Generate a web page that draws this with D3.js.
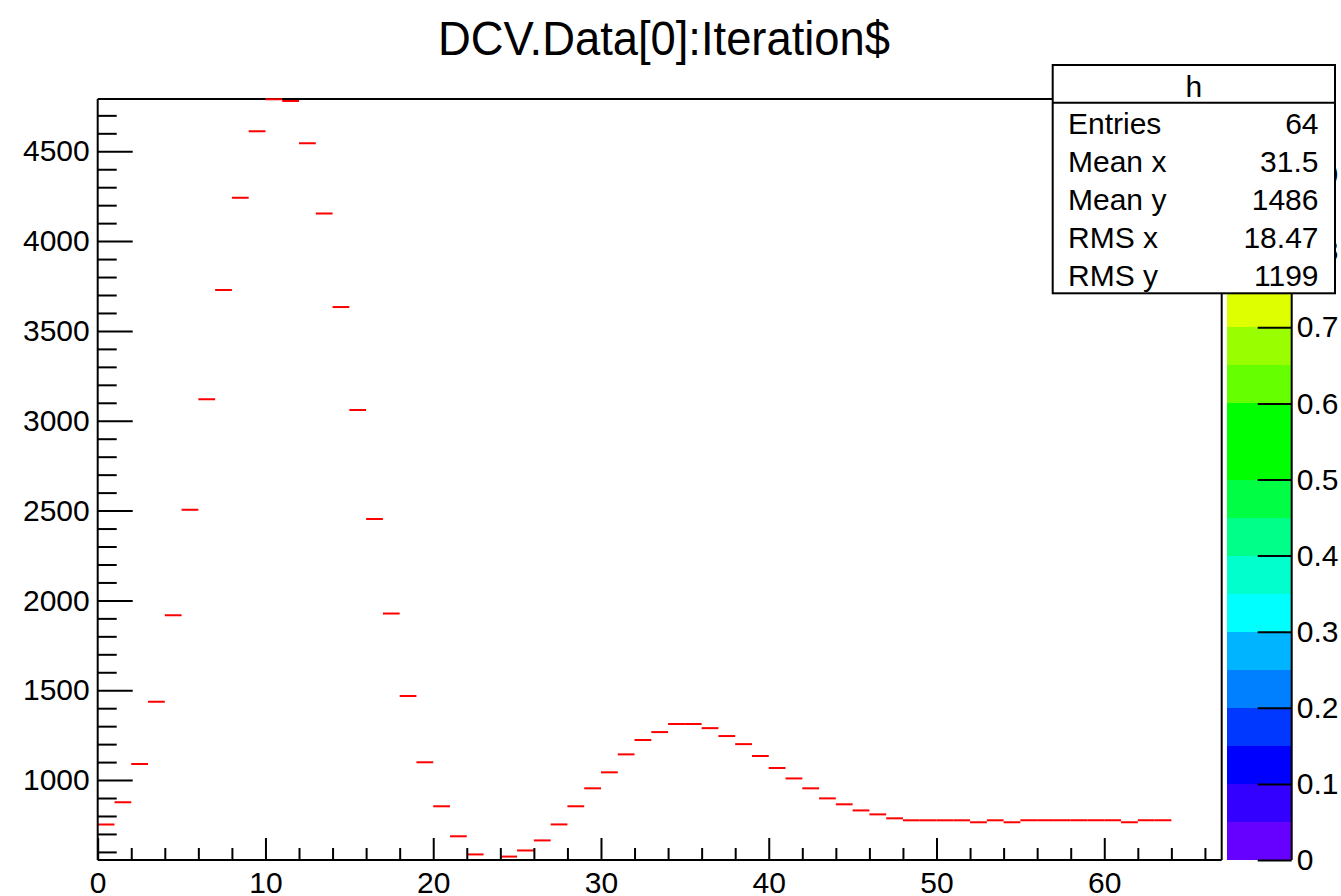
<!DOCTYPE html>
<html>
<head>
<meta charset="utf-8">
<script src="https://cdn.jsdelivr.net/npm/d3@7"></script>
<style>
  html, body { margin: 0; padding: 0; background: #fff; }
  svg { display: block; font-family: "Liberation Sans", Arial, Helvetica, sans-serif; }
</style>
</head>
<body>
<svg id="chart" width="1341" height="896"></svg>
<script>
// ---------------- data ----------------
const chartTitle = "DCV.Data[0]:Iteration$";
// one value per Iteration$ bin (0..63)
const binValues = [
  753, 876, 1089, 1436, 1917, 2505, 3120, 3728, 4242, 4611,
  4790, 4780, 4544, 4153, 3633, 3060, 2453, 1927, 1468, 1099,
  854, 687, 586, 550, 574, 608, 664, 753, 854, 954,
  1043, 1143, 1223, 1267, 1312, 1312, 1289, 1245, 1200, 1134,
  1067, 1009, 954, 898, 865, 831, 809, 787, 776, 776,
  776, 776, 765, 776, 765, 776, 776, 776, 776, 776,
  776, 765, 776, 776
];
const xDomain = [0, 67];
const yDomain = [555, 4791];
const xMajorTicks = [0, 10, 20, 30, 40, 50, 60];
const xMinorTicks = [2, 4, 6, 8, 12, 14, 16, 18, 22, 24, 26, 28, 32, 34, 36, 38, 42, 44, 46, 48, 52, 54, 56, 58, 62, 64, 66];
const yMajorTicks = [1000, 1500, 2000, 2500, 3000, 3500, 4000, 4500];
const yMinorTicks = [600, 700, 800, 900, 1100, 1200, 1300, 1400, 1600, 1700, 1800, 1900, 2100, 2200, 2300, 2400,
  2600, 2700, 2800, 2900, 3100, 3200, 3300, 3400, 3600, 3700, 3800, 3900, 4100, 4200, 4300, 4400, 4600, 4700];
// palette (z axis)
const zDomain = [0, 1];
const zTicks = [0, 0.1, 0.2, 0.3, 0.4, 0.5, 0.6, 0.7, 0.8, 0.9, 1];
const zBandEdges = [0, 0.05, 0.1, 0.15, 0.2, 0.25, 0.3, 0.35, 0.4, 0.45, 0.5, 0.55, 0.6, 0.65, 0.7, 0.75, 0.8, 0.85, 0.9, 0.95, 1];
const zBandColors = ["#6600ff", "#3300ff", "#0000ff", "#0038ff", "#0080ff", "#00b4ff", "#00ffff", "#00ffcc",
  "#00ff88", "#00ff44", "#00ff00", "#00ff00", "#66ff00", "#99ff00", "#ddff00", "#ffff00", "#ffcc00", "#ff9900", "#ff6600", "#ff0000"];
// stats box
const statsName = "h";
const statsLabels = ["Entries", "Mean x", "Mean y", "RMS x", "RMS y"];
const statsValues = ["64", "31.5", "1486", "18.47", "1199"];

// ---------------- layout ----------------
const svg = d3.select("#chart");
const L = 97.7, R = 1221.7, T = 99, B = 860;
const FS = 30;

const x = d3.scaleLinear().domain(xDomain).range([L, R]);
const y = d3.scaleLinear().domain(yDomain).range([B, T]);

// clip for data
svg.append("defs").append("clipPath").attr("id", "plotclip")
  .append("rect").attr("x", L).attr("y", T - 2).attr("width", R - L).attr("height", B - T + 1);

// frame (top & right)
svg.append("path")
  .attr("d", `M${L},${T}H${R}V${B}`)
  .attr("fill", "none").attr("stroke", "#000").attr("stroke-width", 2);

// data segments
svg.append("g").attr("clip-path", "url(#plotclip)")
  .selectAll("line").data(binValues).join("line")
  .attr("x1", (d, i) => x(i)).attr("x2", (d, i) => x(i + 1))
  .attr("y1", d => y(d)).attr("y2", d => y(d))
  .attr("stroke", "#ff0000").attr("stroke-width", 2);

// x axis
const gx = svg.append("g").attr("transform", `translate(0,${B})`);
gx.call(d3.axisBottom(x).tickValues(xMajorTicks).tickSize(-22).tickPadding(12).tickFormat(d3.format("d")));
svg.append("g").attr("transform", `translate(0,${B})`)
  .call(d3.axisBottom(x).tickValues(xMinorTicks).tickSize(-12).tickFormat(""))
  .select(".domain").remove();

// y axis
const gy = svg.append("g").attr("transform", `translate(${L},0)`);
gy.call(d3.axisLeft(y).tickValues(yMajorTicks).tickSize(-35).tickPadding(8).tickFormat(d3.format("d")));
svg.append("g").attr("transform", `translate(${L},0)`)
  .call(d3.axisLeft(y).tickValues(yMinorTicks).tickSize(-19).tickFormat(""))
  .select(".domain").remove();

[gx, gy].forEach(g => {
  g.select(".domain").attr("stroke-width", 2).attr("d", g === gx ? `M${L},0H${R}` : `M0,${B}V${T}`);
});
svg.selectAll(".tick line").attr("stroke", "#000").attr("stroke-width", 2);
svg.selectAll(".tick text").attr("font-size", FS).attr("font-family", "Liberation Sans, Arial, sans-serif").attr("fill", "#000");

// palette
const zL = 1226.7, zR = 1291.7;
const z = d3.scaleLinear().domain(zDomain).range([B, T]);
const bands = zBandColors.map((c, i) => ({ c, lo: zBandEdges[i], hi: zBandEdges[i + 1] }));
svg.append("g").selectAll("rect").data(bands).join("rect")
  .attr("x", zL).attr("width", zR - zL)
  .attr("y", d => z(d.hi)).attr("height", d => z(d.lo) - z(d.hi))
  .attr("fill", d => d.c).attr("shape-rendering", "crispEdges");
const gz = svg.append("g").attr("transform", `translate(${zR},0)`);
gz.call(d3.axisRight(z).tickValues(zTicks).tickSize(-34).tickPadding(5).tickFormat(d3.format("~g")));
gz.select(".domain").attr("stroke-width", 2).attr("d", `M0,${B}V${T}`);
gz.selectAll(".tick line").attr("stroke", "#000").attr("stroke-width", 2);
gz.selectAll(".tick text").attr("font-size", FS).attr("font-family", "Liberation Sans, Arial, sans-serif").attr("fill", "#000");

// title
svg.append("text")
  .attr("x", 438).attr("y", 55)
  .attr("font-size", 49)
  .attr("textLength", 452).attr("lengthAdjust", "spacingAndGlyphs")
  .text(chartTitle);

// stats box
const sb = { x0: 1052.7, x1: 1335, y0: 65, y1: 293.3, div: 102.7 };
const gs = svg.append("g");
gs.append("rect").attr("x", sb.x0).attr("y", sb.y0).attr("width", sb.x1 - sb.x0).attr("height", sb.y1 - sb.y0)
  .attr("fill", "#fff").attr("stroke", "#000").attr("stroke-width", 2);
gs.append("line").attr("x1", sb.x0).attr("x2", sb.x1).attr("y1", sb.div).attr("y2", sb.div)
  .attr("stroke", "#000").attr("stroke-width", 2);
gs.append("text").attr("x", (sb.x0 + sb.x1) / 2).attr("y", 97).attr("text-anchor", "middle")
  .attr("font-size", FS).text(statsName);
const rowY = d3.scalePoint().domain(statsLabels).range([133.5, 285.5]);
gs.selectAll("text.lab").data(statsLabels).join("text").attr("class", "lab")
  .attr("x", 1068).attr("y", d => rowY(d)).attr("font-size", FS).text(d => d);
gs.selectAll("text.val").data(statsValues).join("text").attr("class", "val")
  .attr("x", 1318.5).attr("y", (d, i) => rowY(statsLabels[i])).attr("text-anchor", "end")
  .attr("font-size", FS).text(d => d);
</script>
</body>
</html>
